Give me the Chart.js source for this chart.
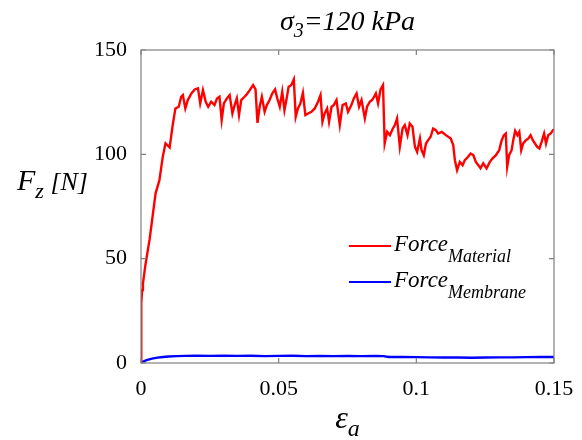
<!DOCTYPE html>
<html>
<head>
<meta charset="utf-8">
<script src="https://cdn.jsdelivr.net/npm/chart.js@4/dist/chart.umd.min.js"></script>
<style>
html,body{margin:0;padding:0;background:#fff;}
#wrap{width:582px;height:440px;}
</style>
</head>
<body>
<div id="wrap"><canvas id="c" width="582" height="440"></canvas></div>
<script>
// ---- Data ----
const materialStrain = [0,0.0001,0.0004,0.0007,0.0016,0.0031,0.0053,0.0067,0.0079,0.0089,0.0104,0.0116,0.0125,0.0137,0.0146,0.0152,0.0161,0.0170,0.0183,0.0195,0.0207,0.0215,0.0225,0.0235,0.0244,0.0255,0.0267,0.0276,0.0285,0.0293,0.0301,0.0312,0.0322,0.0332,0.0340,0.0348,0.0356,0.0364,0.0376,0.0385,0.0395,0.0407,0.0416,0.0423,0.0431,0.0439,0.0449,0.0457,0.0467,0.0477,0.0487,0.0495,0.0504,0.0513,0.0521,0.0528,0.0536,0.0546,0.0555,0.0562,0.0570,0.0579,0.0588,0.0597,0.0607,0.0619,0.0631,0.0643,0.0652,0.0659,0.0667,0.0676,0.0683,0.0692,0.0700,0.0710,0.0722,0.0732,0.0744,0.0752,0.0764,0.0773,0.0783,0.0792,0.0801,0.0813,0.0821,0.0831,0.0841,0.0853,0.0861,0.0870,0.0879,0.0885,0.0894,0.0904,0.0913,0.0922,0.0930,0.0940,0.0950,0.0958,0.0968,0.0976,0.0986,0.0995,0.1003,0.1013,0.1019,0.1027,0.1035,0.1043,0.1052,0.1061,0.1071,0.1079,0.1092,0.1100,0.1107,0.1116,0.1125,0.1134,0.1140,0.1148,0.1158,0.1168,0.1176,0.1188,0.1197,0.1207,0.1216,0.1225,0.1233,0.1243,0.1255,0.1267,0.1277,0.1289,0.1301,0.1310,0.1318,0.1325,0.1330,0.1337,0.1346,0.1352,0.1359,0.1367,0.1374,0.1381,0.1388,0.1398,0.1407,0.1415,0.1423,0.1431,0.1439,0.1447,0.1455,0.1464,0.1471,0.1479,0.1488,0.1497,0.1500];
const forceMaterial = [0,28.7,35,38,47,59,81.3,87.7,98.8,105.2,103.3,114.8,122,122.8,127.6,128.4,122,126,129.2,131.1,131.6,124.4,130.8,125.2,122.8,125.2,123.6,126.8,127.6,116.4,124.4,126.8,128.4,119.6,123.6,126.8,118.8,126,127.6,128.9,130.8,133.2,131.1,115.1,122.8,127.6,120.4,123.6,126,129.2,131.1,126.8,122.8,130,121.2,126,132.3,133.2,135.9,118,122,124.4,129.5,118.8,119.6,120.4,122,125.2,128.4,115.6,119.6,122,115.6,122.8,123.6,126,114,123.6,124.4,120.4,123.6,126.8,129.2,122.8,126,117.2,122.8,125.2,126.3,129.2,124.4,131.1,133.2,105.2,110.8,109.2,111.9,114,117.2,103.6,112.4,114,109.2,114.8,113.2,103.6,101.2,107.6,102,99.6,105.2,106.8,108.4,112.4,111.6,110,110.8,110,109.2,108.4,107.6,104.4,97.2,92.4,96.4,94.8,97.2,98.8,100.4,99.6,96.4,94.8,93.3,95.7,93.3,96.4,98.1,99.6,102,106.8,109.2,110,94,99.6,102,106.8,111.3,109.2,110.8,102,105.2,106.8,107.6,109.2,106.8,105.2,103.6,102.8,106,110,105.2,109.2,110,111.6,112];
const membraneStrain = [0,0.001,0.002,0.004,0.006,0.008,0.010,0.013,0.016,0.020,0.025,0.030,0.035,0.040,0.045,0.050,0.055,0.060,0.065,0.070,0.075,0.080,0.085,0.088,0.090,0.095,0.100,0.105,0.110,0.115,0.120,0.125,0.130,0.135,0.140,0.145,0.150];
const forceMembrane = [0,0.8,1.4,2.1,2.6,2.9,3.1,3.3,3.4,3.5,3.4,3.5,3.4,3.5,3.3,3.4,3.5,3.3,3.4,3.3,3.4,3.3,3.4,3.3,2.9,2.9,2.8,2.7,2.6,2.6,2.5,2.6,2.7,2.7,2.8,2.9,2.9];
const xTickLabels = ['0','0.05','0.1','0.15'];
const yTickLabels = ['0','50','100','150'];
const seriesNames = [['Force','Material'],['Force','Membrane']];

const SERIF = '"Liberation Serif","Times New Roman",serif';
const AXIS_GREY = '#808080';

function pts(xs, ys){ return xs.map((x,i)=>({x:x,y:ys[i]})); }

// draws text with an italic subscript part
function subText(ctx, x, y, base, sub, baseSize, subSize, subDrop, align){
  ctx.save();
  ctx.fillStyle = '#000';
  ctx.textBaseline = 'alphabetic';
  ctx.font = 'italic ' + baseSize + 'px ' + SERIF;
  const w1 = ctx.measureText(base).width;
  ctx.font = 'italic ' + subSize + 'px ' + SERIF;
  const w2 = ctx.measureText(sub).width;
  let x0 = x;
  if (align === 'center') x0 = x - (w1 + w2) / 2;
  ctx.font = 'italic ' + baseSize + 'px ' + SERIF;
  ctx.textAlign = 'left';
  ctx.fillText(base, x0, y);
  ctx.font = 'italic ' + subSize + 'px ' + SERIF;
  ctx.fillText(sub, x0 + w1, y + subDrop);
  ctx.restore();
  return x0 + w1 + w2;
}

const decorPlugin = {
  id: 'decor',
  afterDatasetsDraw(chart){
    const ctx = chart.ctx;
    const a = chart.chartArea;
    const xs = chart.scales.x, ys = chart.scales.y;
    ctx.save();
    // box
    ctx.strokeStyle = AXIS_GREY;
    ctx.lineWidth = 1.2;
    ctx.strokeRect(a.left, a.top, a.right - a.left, a.bottom - a.top);
    // inward ticks
    const tl = 5;
    ctx.beginPath();
    xs.ticks.forEach(t => {
      const px = xs.getPixelForValue(t.value);
      ctx.moveTo(px, a.bottom); ctx.lineTo(px, a.bottom - tl);
      ctx.moveTo(px, a.top); ctx.lineTo(px, a.top + tl);
    });
    ys.ticks.forEach(t => {
      const py = ys.getPixelForValue(t.value);
      ctx.moveTo(a.left, py); ctx.lineTo(a.left + tl, py);
      ctx.moveTo(a.right, py); ctx.lineTo(a.right - tl, py);
    });
    ctx.stroke();
    ctx.restore();

    // title: sigma_3 = 120 kPa
    (function(){
      ctx.save();
      ctx.fillStyle = '#000';
      ctx.font = 'italic 28px ' + SERIF;
      const wS = ctx.measureText('\u03C3').width;
      ctx.font = 'italic 20px ' + SERIF;
      const w3 = ctx.measureText('3').width;
      ctx.font = 'italic 28px ' + SERIF;
      const wR = ctx.measureText('=120 kPa').width;
      const cx = (a.left + a.right) / 2;
      let x0 = cx - (wS + w3 + wR) / 2;
      const base = 30;
      ctx.textBaseline = 'alphabetic';
      ctx.fillText('\u03C3', x0, base);
      ctx.font = 'italic 20px ' + SERIF;
      ctx.fillText('3', x0 + wS, base + 7);
      ctx.font = 'italic 28px ' + SERIF;
      ctx.fillText('=120 kPa', x0 + wS + w3, base);
      ctx.restore();
    })();

    // y title: F_z [N]
    (function(){
      const end = subText(ctx, 17, 190, 'F', 'z', 30, 22, 8, 'left');
      ctx.save();
      ctx.fillStyle = '#000';
      ctx.font = 'italic 26px ' + SERIF;
      ctx.textBaseline = 'alphabetic';
      ctx.fillText(' [N]', end, 190);
      ctx.restore();
    })();

    // x title: epsilon_a
    subText(ctx, (a.left + a.right) / 2, 428, '\u03B5', 'a', 32, 24, 8, 'center');

    // legend
    const legY = [246, 282];
    chart.data.datasets.forEach((ds, i) => {
      ctx.save();
      ctx.strokeStyle = ds.borderColor;
      ctx.lineWidth = 2;
      ctx.beginPath();
      ctx.moveTo(349, legY[i]); ctx.lineTo(391, legY[i]);
      ctx.stroke();
      ctx.restore();
      subText(ctx, 394, legY[i] + 5, seriesNames[i][0], seriesNames[i][1], 23, 18, 11, 'left');
    });
  }
};

new Chart(document.getElementById('c'), {
  type: 'line',
  data: {
    datasets: [
      { label: seriesNames[0].join(' '), data: pts(materialStrain, forceMaterial), borderColor: '#ff0000', borderWidth: 2.4, pointRadius: 0, tension: 0, fill: false },
      { label: seriesNames[1].join(' '), data: pts(membraneStrain, forceMembrane), borderColor: '#0000ff', borderWidth: 2.4, pointRadius: 0, tension: 0, fill: false }
    ]
  },
  plugins: [decorPlugin],
  options: {
    responsive: false,
    animation: false,
    events: [],
    layout: { padding: { top: 50, right: 28, left: 0, bottom: 0 } },
    plugins: { legend: { display: false }, title: { display: false }, tooltip: { enabled: false } },
    scales: {
      x: {
        type: 'linear', min: 0, max: 0.15,
        grid: { display: false },
        border: { display: false },
        afterFit: s => { s.height = 77; },
        afterBuildTicks: s => { s.ticks = xTickLabels.map(v => ({ value: parseFloat(v) })); },
        ticks: { padding: 5, color: '#000', font: { family: SERIF, size: 22 }, maxRotation: 0, autoSkip: false,
          callback: (v, i) => xTickLabels[i] }
      },
      y: {
        type: 'linear', min: 0, max: 150,
        grid: { display: false },
        border: { display: false },
        afterFit: s => { s.width = 141; },
        afterBuildTicks: s => { s.ticks = yTickLabels.map(v => ({ value: parseFloat(v) })); },
        ticks: { padding: 6, color: '#000', font: { family: SERIF, size: 22 }, autoSkip: false,
          callback: (v, i) => yTickLabels[i] }
      }
    }
  }
});
</script>
</body>
</html>
